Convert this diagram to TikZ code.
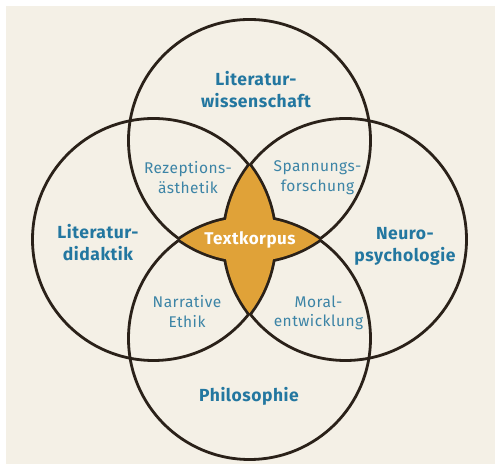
\documentclass[tikz,border=0pt]{standalone}
\usepackage{fontspec}
\setmainfont{Fira Sans}
\newfontfamily\subfont[LetterSpace=3]{Fira Sans}
\newfontfamily\headfont[LetterSpace=3]{Fira Sans}
\definecolor{bg}{HTML}{F4F0E6}
\definecolor{ink}{HTML}{2A2119}
\definecolor{titleblue}{HTML}{2377A0}
\definecolor{subblue}{HTML}{3C84A6}
\definecolor{starfill}{HTML}{E0A238}
\begin{document}
\begin{tikzpicture}[x=1pt,y=1pt,
  ring/.style={circle, draw=ink, line width=2.8pt, minimum size=242pt, inner sep=0pt},
  titletext/.style={font=\headfont\fontsize{17.5}{22}\selectfont\bfseries, text=titleblue, align=center, inner sep=0pt},
  subtext/.style={font=\subfont\fontsize{15.5}{19.5}\selectfont, text=subblue, align=center, inner sep=0pt},
  centertext/.style={font=\headfont\fontsize{17}{20}\selectfont\bfseries, text=white, inner sep=0pt}]
\useasboundingbox (0,0) rectangle (495,465);
\fill[white] (0,0) rectangle (495,465);
\fill[bg] (6,1) rectangle (495,459);
\def\R{121}
% circles
\node[ring] (ctop) at (249.5,324.5) {};
\node[ring] (cbot) at (249.5,126.5) {};
\node[ring] (cleft) at (153.5,225.5) {};
\node[ring] (cright) at (345.5,225.5) {};
% star outline (double width, inner half covered by fill)
\begin{scope}
  \clip (cleft.center) circle[radius=\R];
  \draw[ink, line width=5.6pt] (cright.center) circle[radius=\R];
\end{scope}
\begin{scope}
  \clip (cright.center) circle[radius=\R];
  \draw[ink, line width=5.6pt] (cleft.center) circle[radius=\R];
\end{scope}
\begin{scope}
  \clip (ctop.center) circle[radius=\R];
  \draw[ink, line width=5.6pt] (cbot.center) circle[radius=\R];
\end{scope}
\begin{scope}
  \clip (cbot.center) circle[radius=\R];
  \draw[ink, line width=5.6pt] (ctop.center) circle[radius=\R];
\end{scope}
% star fill
\begin{scope}
  \clip (cleft.center) circle[radius=\R];
  \fill[starfill] (cright.center) circle[radius=\R];
\end{scope}
\begin{scope}
  \clip (ctop.center) circle[radius=\R];
  \fill[starfill] (cbot.center) circle[radius=\R];
\end{scope}
% labels
\node[titletext] (lw) at (256,375) {Literatur-\\wissenschaft};
\node[titletext] (ld) at (98,222.5) {Literatur-\\didaktik};
\node[titletext] (np) at (405,219) {Neuro-\\psychologie};
\node[titletext] (ph) at (249,69) {Philosophie};
\node[subtext] (re) at (188,287.5) {Rezeptions-\\ästhetik};
\node[subtext] (sp) at (317.5,287.5) {Spannungs-\\forschung};
\node[subtext] (na) at (187,153.5) {Narrative\\Ethik};
\node[subtext] (mo) at (318.5,152) {Moral-\\entwicklung};
\node[centertext] (tk) at (250,225) {Textkorpus};
\end{tikzpicture}
\end{document}
